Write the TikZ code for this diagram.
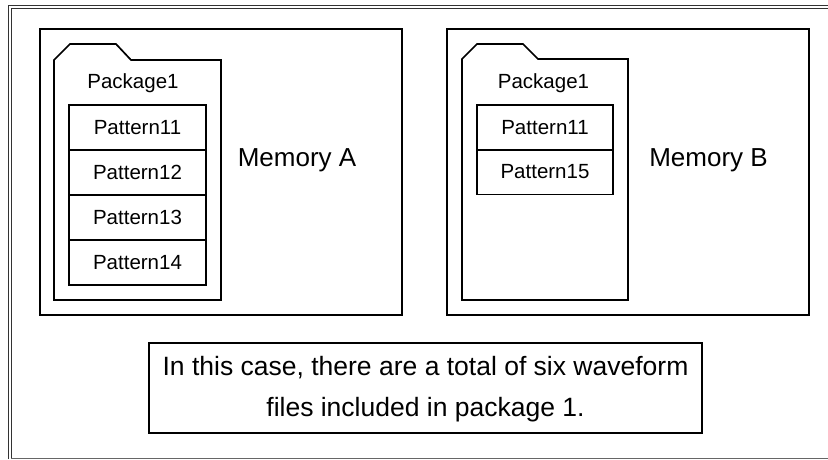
\documentclass[tikz,border=0pt]{standalone}
\usepackage{fontspec}
\setmainfont{Liberation Sans}
\begin{document}
\begin{tikzpicture}[x=1pt,y=-1pt,
  box/.style={draw=black,line width=1.7pt},
  pat/.style={draw=black,line width=1.7pt,minimum height=45pt,inner sep=0pt,font=\fontsize{20.5}{24}\selectfont},
  lbl/.style={inner sep=0pt,font=\fontsize{20.5}{24}\selectfont},
  mem/.style={inner sep=0pt,font=\fontsize{26}{30}\selectfont}]
\useasboundingbox (0,0) rectangle (828,459);
% outer frame
\draw[line width=1pt,black!80] (8,459) -- (8,5) -- (828,5);
\draw[line width=1pt,black!80] (11,459) -- (11,8) -- (828,8);
\draw[line width=1pt,black!60] (11,458) -- (828,458);
% Memory A
\draw[box] (40,29) rectangle (402,315);
\draw[box,line join=miter] (54,300) -- (54,60) -- (70,44) -- (116,44) -- (131,60) -- (221,60) -- (221,300) -- cycle;
\node[lbl] (pkgA) at (133,83) {Package1};
\node[pat,minimum width=137pt] (a1) at (137.5,127.5) {Pattern11};
\node[pat,minimum width=137pt] (a2) at (137.5,172.5) {Pattern12};
\node[pat,minimum width=137pt] (a3) at (137.5,217.5) {Pattern13};
\node[pat,minimum width=137pt] (a4) at (137.5,262.5) {Pattern14};
\node[mem] (memA) at (297,160) {Memory A};
% Memory B
\draw[box] (447,29) rectangle (809,315);
\draw[box,line join=miter] (462,300) -- (462,59) -- (477,44) -- (523,44) -- (538,59) -- (628,59) -- (628,300) -- cycle;
\node[lbl] (pkgB) at (543.5,83) {Package1};
\node[pat,minimum width=136pt] (b1) at (545,127.5) {Pattern11};
\node[pat,minimum width=136pt] (b2) at (545,172) {Pattern15};
\node[mem] (memB) at (708.5,160) {Memory B};
% note
\draw[line width=2pt] (149,343) rectangle (702,433);
\node[inner sep=0pt,font=\fontsize{26.5}{41}\selectfont,align=center] (note) at (425.5,389)
  {In this case, there are a total of six waveform\\files included in package 1.};
\end{tikzpicture}
\end{document}
